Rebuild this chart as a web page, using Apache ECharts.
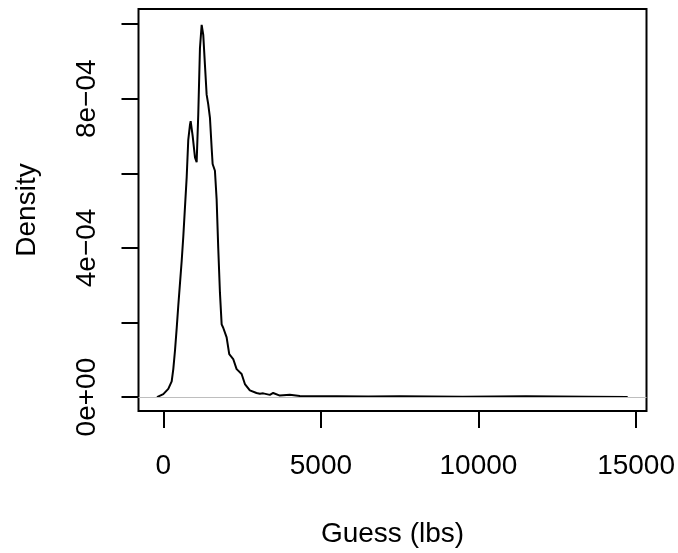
<!DOCTYPE html>
<html>
<head>
<meta charset="utf-8">
<script src="https://cdn.jsdelivr.net/npm/echarts@6/dist/echarts.min.js"></script>
<style>html,body{margin:0;padding:0;background:#fff;}#c{width:678px;height:553px;}</style>
</head>
<body>
<div id="c"></div>
<script>
// Data
const guessX = [-200, 0, 158, 266, 317, 371, 425, 475, 529, 583, 634, 688, 742, 792, 846, 868, 932, 1005, 1058, 1109, 1163, 1217, 1268, 1321, 1375, 1426, 1480, 1534, 1565, 1638, 1692, 1743, 1797, 1851, 1901, 2009, 2092, 2218, 2326, 2485, 2589, 2746, 2958, 3064, 3170, 3223, 3381, 3486, 3698, 4015, 4332, 4754, 5500, 6500, 7500, 8500, 9500, 10500, 11500, 12500, 13500, 14734];
const densityE4 = [0, 0.08, 0.22, 0.42, 0.75, 1.25, 1.85, 2.45, 3.05, 3.65, 4.3, 5.1, 5.9, 6.9, 7.3, 7.4, 7.0, 6.43, 6.3, 7.58, 9.36, 9.98, 9.71, 8.91, 8.11, 7.85, 7.49, 6.68, 6.25, 6.07, 5.3, 4.0, 2.8, 1.95, 1.86, 1.6, 1.15, 1.02, 0.75, 0.62, 0.35, 0.18, 0.11, 0.09, 0.1, 0.11, 0.06, 0.11, 0.04, 0.06, 0.03, 0.02, 0.02, 0.015, 0.02, 0.015, 0.01, 0.015, 0.02, 0.015, 0.01, 0.005];
const xTicks = [0, 5000, 10000, 15000];
const yTicks = [0, 0.0002, 0.0004, 0.0006, 0.0008, 0.001];
const yLabelValues = [0, 0.0004, 0.0008];
const yLabelTexts = ['0e+00', '4e\u221204', '8e\u221204'];

const points = guessX.map((x, i) => [x, densityE4[i] * 1e-4]);
const font = '"Liberation Sans", Arial, Helvetica, sans-serif';

const chart = echarts.init(document.getElementById('c'));
chart.setOption({
  animation: false,
  backgroundColor: '#ffffff',
  grid: {left: 138.5, right: 31, top: 9, bottom: 139, show: true, borderColor: '#000', borderWidth: 2, backgroundColor: 'transparent'},
  xAxis: {
    type: 'value', min: -787, max: 15331,
    name: 'Guess (lbs)', nameLocation: 'middle', nameGap: 109,
    nameTextStyle: {fontFamily: font, fontSize: 28, color: '#000', lineHeight: 28},
    axisLine: {show: false, onZero: false},
    splitLine: {show: false},
    axisTick: {show: true, inside: false, customValues: xTicks, length: 17, lineStyle: {color: '#000', width: 2}},
    axisLabel: {customValues: xTicks, margin: 41, fontFamily: font, fontSize: 28, color: '#000', lineHeight: 28,
      formatter: v => String(v)}
  },
  yAxis: {
    type: 'value', min: -0.0000373, max: 0.0010407,
    name: 'Density', nameLocation: 'middle', nameGap: 97,
    nameTextStyle: {fontFamily: font, fontSize: 28, color: '#000', lineHeight: 28},
    axisLine: {show: false, onZero: false},
    splitLine: {show: false},
    axisTick: {show: true, inside: false, customValues: yTicks, length: 17, lineStyle: {color: '#000', width: 2}},
    axisLabel: {customValues: yLabelValues, rotate: 90, margin: 37, fontFamily: font, fontSize: 28, color: '#000', lineHeight: 28,
      formatter: v => {
        const i = yLabelValues.findIndex(t => Math.abs(t - v) < 1e-9);
        return i >= 0 ? yLabelTexts[i] : '';
      }}
  },
  series: [{
    type: 'line',
    data: points,
    showSymbol: false,
    smooth: false,
    lineStyle: {color: '#000', width: 2},
    itemStyle: {color: '#000'},
    markLine: {
      silent: true, symbol: 'none', label: {show: false},
      lineStyle: {color: '#bebebe', width: 1, type: 'solid'},
      data: [{yAxis: 0}]
    },
    z: 3
  }]
});
</script>
</body>
</html>
